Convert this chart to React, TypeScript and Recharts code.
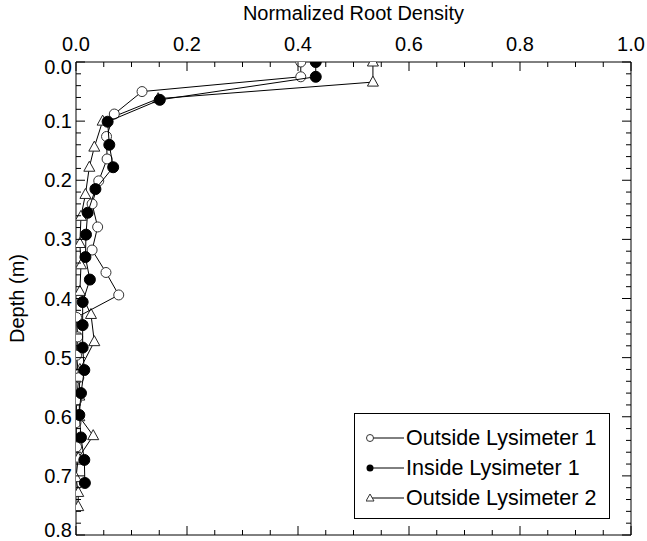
import React from 'react';
import { ScatterChart, Scatter, XAxis, YAxis } from 'recharts';

// tick positions (minor + major) and labelled values
const X_TICKS = [0, 0.05, 0.1, 0.15, 0.2, 0.25, 0.3, 0.35, 0.4, 0.45, 0.5, 0.55, 0.6, 0.65, 0.7, 0.75, 0.8, 0.85, 0.9, 0.95, 1.0];
const X_LABELS = [0, 0.2, 0.4, 0.6, 0.8, 1.0];
const Y_TICKS = [
  0, 0.02, 0.04, 0.06, 0.08, 0.1, 0.12, 0.14, 0.16, 0.18, 0.2, 0.22, 0.24, 0.26, 0.28, 0.3,
  0.32, 0.34, 0.36, 0.38, 0.4, 0.42, 0.44, 0.46, 0.48, 0.5, 0.52, 0.54, 0.56, 0.58, 0.6,
  0.62, 0.64, 0.66, 0.68, 0.7, 0.72, 0.74, 0.76, 0.78, 0.8,
];
const Y_LABELS = [0, 0.1, 0.2, 0.3, 0.4, 0.5, 0.6, 0.7, 0.8];

// Outside Lysimeter 1 (open circles)
const OUT1_DEPTH = [0.0, 0.025, 0.05, 0.088, 0.126, 0.164, 0.201, 0.24, 0.279, 0.318, 0.356, 0.394, 0.432, 0.465, 0.496, 0.534, 0.572, 0.61, 0.651];
const OUT1_DENSITY = [0.405, 0.405, 0.119, 0.069, 0.055, 0.056, 0.041, 0.029, 0.039, 0.029, 0.054, 0.077, 0.001, 0.003, 0.001, 0.005, 0.001, 0.0, 0.001];

// Inside Lysimeter 1 (filled circles)
const IN1_DEPTH = [0.0, 0.025, 0.064, 0.101, 0.14, 0.178, 0.215, 0.255, 0.292, 0.33, 0.368, 0.406, 0.445, 0.483, 0.521, 0.56, 0.597, 0.635, 0.673, 0.712];
const IN1_DENSITY = [0.432, 0.432, 0.151, 0.057, 0.06, 0.067, 0.035, 0.021, 0.018, 0.017, 0.025, 0.012, 0.012, 0.012, 0.015, 0.009, 0.006, 0.009, 0.015, 0.016];

// Outside Lysimeter 2 (open triangles)
const OUT2_DEPTH = [0.0, 0.034, 0.062, 0.1, 0.144, 0.178, 0.224, 0.261, 0.307, 0.343, 0.388, 0.427, 0.473, 0.52, 0.565, 0.6, 0.632, 0.67, 0.703, 0.728, 0.752];
const OUT2_DENSITY = [0.535, 0.535, 0.148, 0.048, 0.033, 0.024, 0.017, 0.009, 0.007, 0.009, 0.007, 0.027, 0.033, 0.007, 0.006, 0.006, 0.031, 0.004, 0.0, 0.004, 0.004];

const toPoints = (depth: number[], density: number[]) =>
  depth.map((d, i) => ({ x: density[i], y: d }));

const PLOT = { left: 76, top: 62, right: 631, bottom: 535 };
const MAJOR_LEN = 9;
const MINOR_LEN = 5;
const FONT = '"Liberation Sans", Arial, Helvetica, sans-serif';

const isMajor = (labels: number[], v: number) => labels.some((l) => Math.abs(l - v) < 1e-6);

const TopTick = ({ x, payload }: any) => {
  const v = payload.value;
  const major = isMajor(X_LABELS, v);
  return (
    <g>
      <line x1={x} x2={x} y1={PLOT.top} y2={PLOT.top + (major ? MAJOR_LEN : MINOR_LEN)} stroke="#000" />
      {major && (
        <text x={x} y={44} dy="0.35em" textAnchor="middle" fontSize={20} fontFamily={FONT} fill="#000">
          {v.toFixed(1)}
        </text>
      )}
    </g>
  );
};

const BottomTick = ({ x, payload }: any) => {
  const major = isMajor(X_LABELS, payload.value);
  return <line x1={x} x2={x} y1={PLOT.bottom} y2={PLOT.bottom - (major ? MAJOR_LEN : MINOR_LEN)} stroke="#000" />;
};

const LeftTick = ({ y, payload }: any) => {
  const v = payload.value;
  const major = isMajor(Y_LABELS, v);
  // end labels are nudged inward, as in the original plot
  const shift = v === 0 ? 5 : Math.abs(v - 0.8) < 1e-6 ? -5 : 0;
  return (
    <g>
      <line x1={PLOT.left} x2={PLOT.left + (major ? MAJOR_LEN : MINOR_LEN)} y1={y} y2={y} stroke="#000" />
      {major && (
        <text x={PLOT.left - 4} y={y + shift} dy="0.35em" textAnchor="end" fontSize={20} fontFamily={FONT} fill="#000">
          {v.toFixed(1)}
        </text>
      )}
    </g>
  );
};

const RightTick = ({ y, payload }: any) => {
  const major = isMajor(Y_LABELS, payload.value);
  return <line x1={PLOT.right} x2={PLOT.right - (major ? MAJOR_LEN : MINOR_LEN)} y1={y} y2={y} stroke="#000" />;
};

const OpenCircle = ({ cx, cy }: any) => (
  <circle cx={cx} cy={cy} r={5} fill="#fff" stroke="#333" strokeWidth={1} />
);
const FilledCircle = ({ cx, cy }: any) => (
  <circle cx={cx} cy={cy} r={5.5} fill="#000" stroke="#000" strokeWidth={1} />
);
const Triangle = ({ cx, cy }: any) => (
  <polygon
    points={`${cx},${cy - 6} ${cx - 5.5},${cy + 4} ${cx + 5.5},${cy + 4}`}
    fill="#fff"
    stroke="#222"
    strokeWidth={1}
  />
);

const LEGEND = [
  { name: 'Outside Lysimeter 1', kind: 'open' },
  { name: 'Inside Lysimeter 1', kind: 'filled' },
  { name: 'Outside Lysimeter 2', kind: 'tri' },
];

const LegendMark = ({ kind }: { kind: string }) => (
  <svg width={40} height={30} style={{ display: 'block', flex: 'none' }}>
    <line x1={4} x2={38} y1={15} y2={15} stroke="#000" strokeWidth={1} />
    {kind === 'open' && <circle cx={4} cy={15} r={3.5} fill="#fff" stroke="#333" />}
    {kind === 'filled' && <circle cx={4} cy={15} r={3.5} fill="#000" />}
    {kind === 'tri' && <polygon points="4,11 0,18 8,18" fill="#fff" stroke="#333" />}
  </svg>
);

export default function App() {
  return (
    <div style={{ position: 'absolute', left: 0, top: 0, width: 647, height: 541, background: '#fff', fontFamily: FONT }}>
      <ScatterChart width={647} height={541} margin={{ top: 0, right: 6, bottom: 2, left: 0 }}>
        <XAxis
          xAxisId="top"
          orientation="top"
          type="number"
          dataKey="x"
          domain={[0, 1]}
          ticks={X_TICKS}
          interval={0}
          height={62}
          tickLine={false}
          axisLine={{ stroke: '#000' }}
          tick={<TopTick />}
          allowDataOverflow
          label={{ value: 'Normalized Root Density', position: 'insideTop', offset: 6, fontSize: 20, fill: '#000', fontFamily: FONT }}
        />
        <XAxis
          xAxisId="bottom"
          orientation="bottom"
          type="number"
          dataKey="x"
          domain={[0, 1]}
          ticks={X_TICKS}
          interval={0}
          height={4}
          tickLine={false}
          axisLine={{ stroke: '#000' }}
          tick={<BottomTick />}
          allowDataOverflow
        />
        <YAxis
          yAxisId="left"
          type="number"
          dataKey="y"
          reversed
          domain={[0, 0.8]}
          ticks={Y_TICKS}
          interval={0}
          width={76}
          tickLine={false}
          axisLine={{ stroke: '#000' }}
          tick={<LeftTick />}
          allowDataOverflow
          label={{ value: 'Depth (m)', angle: -90, position: 'insideLeft', offset: 17, fontSize: 20, fill: '#000', fontFamily: FONT, style: { textAnchor: 'middle' } }}
        />
        <YAxis
          yAxisId="right"
          orientation="right"
          type="number"
          dataKey="y"
          reversed
          domain={[0, 0.8]}
          ticks={Y_TICKS}
          interval={0}
          width={10}
          tickLine={false}
          axisLine={{ stroke: '#000' }}
          tick={<RightTick />}
          allowDataOverflow
        />
        <Scatter
          name="Outside Lysimeter 2"
          data={toPoints(OUT2_DEPTH, OUT2_DENSITY)}
          xAxisId="top"
          yAxisId="left"
          line={{ stroke: '#000', strokeWidth: 1 }}
          lineType="joint"
          shape={<Triangle />}
          isAnimationActive={false}
        />
        <Scatter
          name="Outside Lysimeter 1"
          data={toPoints(OUT1_DEPTH, OUT1_DENSITY)}
          xAxisId="top"
          yAxisId="left"
          line={{ stroke: '#000', strokeWidth: 1 }}
          lineType="joint"
          shape={<OpenCircle />}
          isAnimationActive={false}
        />
        <Scatter
          name="Inside Lysimeter 1"
          data={toPoints(IN1_DEPTH, IN1_DENSITY)}
          xAxisId="top"
          yAxisId="left"
          line={{ stroke: '#000', strokeWidth: 1 }}
          lineType="joint"
          shape={<FilledCircle />}
          isAnimationActive={false}
        />
      </ScatterChart>
      <div
        style={{
          position: 'absolute',
          left: 354,
          top: 413,
          width: 243,
          height: 95,
          border: '1px solid #000',
          background: '#fff',
          padding: '9px 0 0 11px',
          boxSizing: 'content-box',
        }}
      >
        {LEGEND.map((item) => (
          <div key={item.name} style={{ display: 'flex', alignItems: 'center', height: 30 }}>
            <LegendMark kind={item.kind} />
            <span style={{ fontSize: 21.5, color: '#000', whiteSpace: 'nowrap', lineHeight: '30px' }}>{item.name}</span>
          </div>
        ))}
      </div>
    </div>
  );
}
